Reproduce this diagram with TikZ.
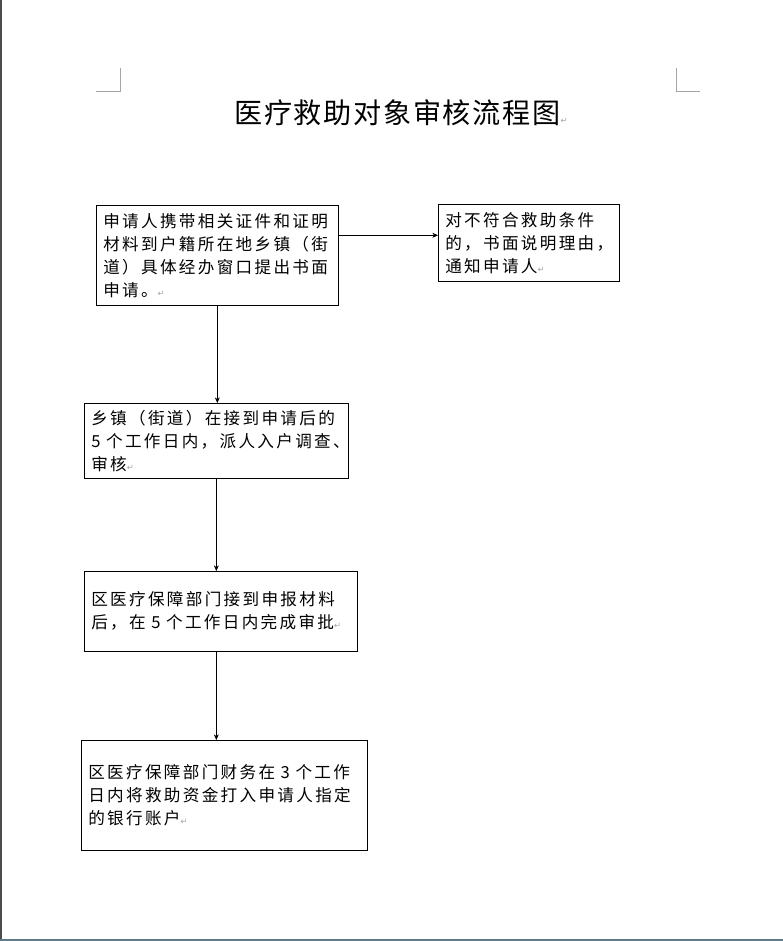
\documentclass[tikz,border=0pt]{standalone}
\usepackage{fontspec}
\newfontfamily\cjk{Noto Sans CJK SC}[LetterSpace=14]
\newfontfamily\cjktitle{Noto Sans CJK SC}[LetterSpace=6]
\newfontfamily\symf{DejaVu Sans}
\usetikzlibrary{positioning,arrows.meta,calc}
\definecolor{pageedge}{RGB}{96,122,140}
\newcommand{\pmark}{{\symf\fontsize{6}{6}\selectfont\color{black!35}↵}}
\newcommand{\gap}{\kern4pt}

\tikzset{
  stepbox/.style={draw, thin, anchor=north west, align=left, inner sep=0.175cm,
    font=\cjk\fontsize{11.8}{16.3}\selectfont},
  arr/.style={-{Stealth[length=4pt,width=3.5pt]}, thin}
}

\begin{document}
\begin{tikzpicture}[x=0.025cm, y=-0.025cm]
  \useasboundingbox (0,0) rectangle (783,941);
  \fill[white] (0,0) rectangle (783,941);
  \draw[black!70, line width=1pt] (1,0) -- (1,941);
  \draw[pageedge, line width=1.2pt] (0,940) -- (783,940);
  \draw[black!35] (96,91) -- (120,91) -- (120,68);
  \draw[black!35] (676,68) -- (676,91) -- (700,91);
  \node[anchor=west, inner sep=0pt, font=\cjktitle\fontsize{20}{22}\selectfont] (title) at (234,113)
    {医疗救助对象审核流程图\pmark};
  \node[stepbox, text width=5.7cm, minimum height=2.5cm] (apply) at (96,205)
    {申请人携带相关证件和证明\\
     材料到户籍所在地乡镇（街\\
     道）具体经办窗口提出书面\\
     申请。\pmark};
  \node[stepbox, text width=4.175cm, minimum height=1.925cm] (reject) at (438,204)
    {对不符合救助条件\\
     的，书面说明理由，\\
     通知申请人\pmark};
  \node[stepbox, text width=6.25cm, minimum height=1.85cm] (town) at (84,403)
    {乡镇（街道）在接到申请后的\\
     5\gap 个工作日内，派人入户调查、\\
     审核\pmark};
  \node[stepbox, text width=6.475cm, minimum height=2cm] (dept) at (84,571)
    {区医疗保障部门接到申报材料\\
     后，在\gap 5\gap 个工作日内完成审批\pmark};
  \node[stepbox, text width=6.8cm, minimum height=2.75cm] (pay) at (81,740)
    {区医疗保障部门财务在\gap 3\gap 个工作\\
     日内将救助资金打入申请人指定\\
     的银行账户\pmark};
  \draw[arr] ([yshift=0.5cm]apply.east) -- ([yshift=0.5cm]apply.east -| reject.west);
  \draw[arr] (apply.south) -- (apply.south |- town.north);
  \draw[arr] (town.south) -- (town.south |- dept.north);
  \draw[arr] (town.south |- dept.south) -- (town.south |- pay.north);
\end{tikzpicture}
\end{document}
